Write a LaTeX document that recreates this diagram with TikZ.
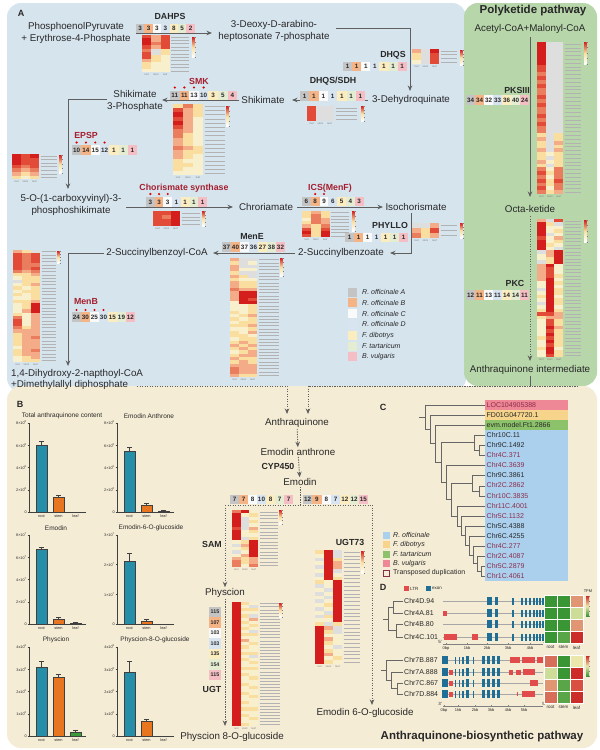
\documentclass[tikz,border=0pt]{standalone}
\usepackage{fontspec}
\setmainfont{Liberation Sans}
\usetikzlibrary{arrows.meta}
\definecolor{panA}{RGB}{214,228,238}
\definecolor{panP}{RGB}{183,214,170}
\definecolor{panB}{RGB}{245,236,213}
\definecolor{darkred}{RGB}{165,30,45}
\definecolor{txt}{RGB}{40,40,40}
\definecolor{arrc}{RGB}{95,95,95}
\definecolor{hR}{RGB}{212,30,30}
\definecolor{hr}{RGB}{225,75,55}
\definecolor{ho}{RGB}{235,125,95}
\definecolor{hs}{RGB}{243,172,135}
\definecolor{hy}{RGB}{249,222,160}
\definecolor{hp}{RGB}{248,240,205}
\definecolor{hg}{RGB}{222,222,222}
\definecolor{nc1}{RGB}{196,196,196}
\definecolor{nc2}{RGB}{244,180,134}
\definecolor{nc3}{RGB}{250,250,250}
\definecolor{nc4}{RGB}{216,229,241}
\definecolor{nc5}{RGB}{252,237,192}
\definecolor{nc6}{RGB}{228,237,210}
\definecolor{nc7}{RGB}{244,190,196}
\definecolor{barroot}{RGB}{38,142,168}
\definecolor{barstem}{RGB}{232,118,32}
\definecolor{barleaf}{RGB}{58,155,58}
\definecolor{cblue}{RGB}{170,208,238}
\definecolor{cyel}{RGB}{246,212,140}
\definecolor{cgrn}{RGB}{140,194,106}
\definecolor{cpink}{RGB}{238,135,150}
\definecolor{cmar}{RGB}{140,45,75}
\definecolor{exonc}{RGB}{30,110,150}
\definecolor{ltrc}{RGB}{225,75,75}
\definecolor{dG}{RGB}{58,150,52}
\definecolor{mG}{RGB}{88,166,72}
\definecolor{pYG}{RGB}{205,220,150}
\definecolor{pY}{RGB}{235,230,170}
\definecolor{salm}{RGB}{225,150,115}
\definecolor{srd}{RGB}{215,110,90}
\definecolor{red1}{RGB}{205,45,40}
\definecolor{red2}{RGB}{215,80,65}

% heatmap: x, y, row height, col width, nrows, label length, list
\newcommand\heat[7]{%
 \foreach[count=\i from 0] \a/\b/\c in {#7}{%
  \fill[fill=h\a] (#1,{#2+\i*#3}) rectangle ({#1+#4},{#2+(\i+1)*#3});
  \fill[fill=h\b] ({#1+#4},{#2+\i*#3}) rectangle ({#1+2*#4},{#2+(\i+1)*#3});
  \fill[fill=h\c] ({#1+2*#4},{#2+\i*#3}) rectangle ({#1+3*#4},{#2+(\i+1)*#3});
  \draw[lab] ({#1+3*#4+1.5},{#2+(\i+.5)*#3}) -- ++(#6,0);
 }%
 \foreach[count=\j from 0] \t in {root,stem,leaf}{%
   \node[collab] at ({#1+(\j+.5)*#4},{#2+#5*#3+2.5}) {\t};}%
}
\newcommand\cbar[3]{%
 \shade[top color=hR, bottom color=hy] (#1,#2) rectangle ({#1+2.5},{#2+#3/2});
 \shade[top color=hy, bottom color=white] (#1,{#2+#3/2}) rectangle ({#1+2.5},{#2+#3});
 \foreach \k in {0,...,4}{\draw[gray,line width=.2pt] ({#1+2.5},{#2+\k*#3/4}) -- ++(1.2,0);}%
}
\newcommand\nums[4]{%
 \foreach[count=\i] \v in {#4}{%
   \node[numbox, fill=nc\i, minimum width=#3pt] at ({#1+(\i-.5)*#3},#2) {\v};}%
}
\newcommand\rdots[4]{%
 \foreach \k in {#4}{\fill[red!85!black] ({#1+(\k-.5)*#3},#2) circle[radius=1.2pt];}%
}
\newcommand\vnums[4]{%
 \foreach[count=\i] \v in {#4}{%
  \node[numbox, fill=nc\i, minimum width=12pt, minimum height=#3pt, font=\bfseries\fontsize{5.3}{6}\selectfont] at (#1,{#2+(\i-1)*#3}) {\v};}%
}
\newcommand\bbar[5]{%
 \fill[#5] (#1,#2) rectangle ({#1+11},#3);
 \draw[black!75,line width=.35pt] (#1,#2) rectangle ({#1+11},#3);
 \draw[black!75,line width=.35pt] ({#1+5.5},#3) -- ({#1+5.5},#4) ({#1+3},#4) -- ({#1+8},#4);
}
\newcommand\baxis[4]{%
 \draw[black!75,line width=.4pt] (#1,{#2-89}) -- (#1,#2) -- ({#1+57},#2);
 \foreach[count=\i from 0] \t in {#3}{%
   \draw[black!75,line width=.4pt] ({#1-1.5},{#2-89+\i*89/#4}) -- (#1,{#2-89+\i*89/#4});
   \node[tick, anchor=east] at ({#1-1.5},{#2-89+\i*89/#4}) {\t};
 }%
 \node[tick] at ({#1+12.5},{#2+4.5}) {root};
 \node[tick] at ({#1+29.5},{#2+4.5}) {stem};
 \node[tick] at ({#1+46.5},{#2+4.5}) {leaf};
}
\newcommand\sci[2]{#1×10\textsuperscript{#2}}
\newcommand\scx[2]{#1x10\textsuperscript{#2}}
\newcommand\tbr[5]{\draw[tree] (#4,#2) -- (#1,#2) -- (#1,#3) -- (#5,#3);}
\newcommand\gx[4]{\fill[exonc] (#1,{#3-#4/2}) rectangle (#2,{#3+#4/2});}
\newcommand\gl[4]{\fill[ltrc] (#1,{#3-#4/2}) rectangle (#2,{#3+#4/2});}

\begin{document}
\begin{tikzpicture}[x=1pt,y=-1pt,
 met/.style={font=\fontsize{9.8}{12.5}\selectfont, align=center, inner sep=1pt, text=txt},
 enz/.style={font=\bfseries\fontsize{8.8}{10}\selectfont, inner sep=0pt, text=txt},
 enzr/.style={enz, text=darkred},
 arr/.style={draw=arrc, line width=0.9pt, -{Stealth[length=5.5pt,width=4.5pt]}},
 darr/.style={arr, dash pattern=on 1.4pt off 1.1pt},
 dline/.style={draw=arrc, line width=0.9pt, dash pattern=on 1.4pt off 1.1pt},
 numbox/.style={inner sep=0pt, minimum height=9.5pt, font=\bfseries\fontsize{6.3}{7}\selectfont, text=txt},
 lab/.style={draw=black!30, line width=0.35pt},
 collab/.style={font=\fontsize{2.6}{3}\selectfont, text=gray, inner sep=0pt},
 tick/.style={font=\fontsize{3.8}{4.5}\selectfont, inner sep=0.6pt, text=txt},
 ctitle/.style={font=\fontsize{6.5}{7.5}\selectfont, text=txt, inner sep=0pt},
 legit/.style={font=\itshape\fontsize{7}{8}\selectfont, text=txt, inner sep=0pt},
 clab/.style={font=\fontsize{7}{8}\selectfont, inner sep=0pt},
 tree/.style={draw=black!60, line width=0.5pt},
 big/.style={font=\bfseries\fontsize{11.5}{13}\selectfont, text=txt, inner sep=0pt},
 plab/.style={font=\bfseries\fontsize{9}{10}\selectfont, text=txt, inner sep=0pt},
 small/.style={font=\fontsize{4.5}{5}\selectfont, text=txt, inner sep=0pt}
]
\useasboundingbox (0,0) rectangle (600,750);
\fill[white] (0,0) rectangle (600,750);
% panels
\fill[panA, rounded corners=14pt] (7,3) rectangle (466,392);
\fill[panP, rounded corners=14pt] (464,3) rectangle (597,386);
\fill[panB, rounded corners=14pt] (7,386) rectangle (597,748);

\node[plab] (lA) at (21,13) {A};
\node[plab] (lB) at (20,404) {B};
\node[plab] (lC) at (383,407) {C};
\node[plab] (lD) at (383,587) {D};

% ---------- panel A metabolites ----------
\node[met] (pep) at (76,33) {PhosphoenolPyruvate\\+ Erythrose-4-Phosphate};
\node[met] (dahp) at (274,31) {3-Deoxy-D-arabino-\\heptosonate 7-phosphate};
\node[met] (dhq) at (411,100) {3-Dehydroquinate};
\node[met] (shik) at (263,100) {Shikimate};
\node[met] (s3p) at (135,101) {Shikimate\\3-Phosphate};
\node[met] (eps) at (71,205) {5-O-(1-carboxyvinyl)-3-\\phosphoshikimate};
\node[met] (chor) at (266,207) {Chroriamate};
\node[met] (iso) at (416,207) {Isochorismate};
\node[met] (sb) at (341,253) {2-Succinylbenzoate};
\node[met] (sbc) at (157,253) {2-Succinylbenzoyl-CoA};
\node[met, anchor=west] (dhna) at (10,374) {1,4-Dihydroxy-2-napthoyl-CoA};
\node[met, anchor=west] (dmap) at (10,385) {+Dimethylallyl diphosphate};

% arrows panel A
\draw[arr] (136,33) -- (212,33);
\draw[arr] (336,28) -| (410,91);
\draw[arr] (368,100) -- (292,100);
\draw[arr] (239,100) -- (162,100);
\draw[arr] (107,99) -| (68,189);
\draw[arr] (126,207) -- (233,207);
\draw[arr] (297,207) -- (383,207);
\draw[arr] (411,213) |- (390,253);
\draw[arr] (295,253) -- (213,253);
\draw[arr] (104,253) -| (68,366);

% DAHPS
\node[enz] at (170,16) {DAHPS};
\nums{136}{28.5}{8.4}{3,3,3,3,8,5,2}
\heat{142}{35}{3.4}{9.3}{11}{18}{r/s/r,R/s/r,R/o/r,r/s/r,o/g/y,r/g/y,r/y/p,s/y/p,y/p/p,y/p/p,p/p/p}
\cbar{192}{37}{20}
% DHQS
\node[enz] at (393,55) {DHQS};
\nums{343}{66.5}{9.1}{1,1,1,1,1,1,1}
\heat{412}{49}{3.7}{9}{4}{16}{s/g/R,y/g/r,y/g/r,p/g/r}
\cbar{460}{50}{15}
% DHQS/SDH
\node[enz] at (333,81) {DHQS/SDH};
\nums{300}{96}{9.3}{1,1,1,1,1,1,1}
\heat{307}{106}{3.7}{9}{4}{21}{r/g/g,r/g/g,r/g/g,r/g/g}
\cbar{361}{106}{15}
% SMK
\node[enzr] at (199,81) {SMK};
\rdots{170}{87.5}{9.6}{1,2,3,4}
\nums{170}{95.5}{9.6}{11,11,13,10,3,5,4}
\heat{173}{104}{4.2}{10}{17}{20}{y/o/y,r/s/y,R/s/y,r/s/p,R/s/p,r/s/p,o/s/p,o/y/p,s/y/p,s/y/p,o/s/y,s/y/y,s/y/p,y/p/p,y/y/p,y/p/p,p/p/p}
\cbar{226}{106}{20}
% EPSP
\node[enzr] at (86,135) {EPSP};
\rdots{72}{142.5}{9.3}{1,2,3,4}
\nums{72}{150}{9.3}{10,14,15,12,1,1,1}
\heat{12}{154}{3.6}{9}{7}{16}{R/r/R,R/r/r,R/r/r,r/o/r,o/s/o,s/y/s,y/p/y}
\cbar{59}{155}{18}
% Chorismate synthase
\node[enzr] at (184,188) {Chorismate synthase};
\rdots{146}{194}{8.7}{1,2,3}
\nums{146}{202}{8.7}{3,3,3,1,1,1,1}
\heat{153}{211}{3.8}{9}{4}{18}{r/r/R,r/o/R,r/r/R,r/r/R}
\cbar{202}{211}{15}
% ICS
\node[enzr] at (330,188) {ICS(MenF)};
\rdots{302}{194}{8.8}{2,3}
\nums{302}{201.5}{8.8}{6,8,9,6,5,4,3}
\heat{302}{211}{3.3}{9.3}{8}{18}{y/s/y,y/o/y,p/o/s,y/o/s,s/y/o,r/y/r,R/y/R,r/y/R}
\cbar{352}{211}{20}
% PHYLLO
\node[enz] at (390,225) {PHYLLO};
\nums{345}{237.5}{9}{1,1,1,1,1,1,1}
\heat{412}{223}{5}{9}{3}{16}{g/g/s,s/y/r,o/y/s}
\cbar{460}{223}{15}
% MenE
\node[enz] at (252,237) {MenE};
\nums{222}{247}{9}{37,40,37,36,27,38,32}
\heat{230}{258}{3.3}{9}{36}{20}{s/g/g,y/g/p,s/g/g,s/p/p,y/g/g,s/y/g,y/p/p,s/y/y,s/y/y,o/s/s,s/R/R,s/R/R,s/R/r,p/R/R,p/p/y,p/p/y,y/p/y,p/y/s,y/p/y,p/y/y,y/y/s,p/p/y,y/p/s,y/y/p,p/y/y,y/s/y,s/y/s,y/s/y,p/y/s,y/s/s,s/y/y,y/s/y,s/s/s,o/s/s,o/s/s,s/y/y}
\cbar{280}{258}{18}
% MenB
\node[enzr] at (86,302) {MenB};
\rdots{72}{310}{9}{1,2,3,4}
\nums{72}{317}{9}{24,30,25,30,15,19,12}
\heat{13}{250}{3.3}{9}{34}{14}{s/y/g,r/o/r,r/o/r,r/o/r,r/o/o,r/o/r,o/s/o,y/y/s,p/y/y,g/y/y,p/y/s,y/p/y,p/y/y,y/p/y,p/p/y,y/y/s,p/y/R,p/y/R,p/s/R,y/p/s,o/p/s,r/p/s,r/p/s,o/y/s,s/s/s,y/s/s,y/s/o,y/s/s,y/s/s,p/s/s,y/s/o,y/s/s,p/y/s,p/y/y}
\cbar{57}{251}{12}

% legend A
\foreach[count=\i] \t in {R. officinale A,R. officinale B,R. officinale C,R. officinale D,F. dibotrys,F. tartaricum,B. vulgaris}{%
  \fill[fill=nc\i] (348,{292+(\i-1)*10.8-4.5}) rectangle (357,{292+(\i-1)*10.8+4.5});
  \node[legit, anchor=west] at (362,{292+(\i-1)*10.8}) {\t};
}

% ---------- polyketide ----------
\node[big] at (533,11) {Polyketide pathway};
\node[met] (acm) at (530,29) {Acetyl-CoA+Malonyl-CoA};
\node[met] (octa) at (530,209) {Octa-ketide};
\node[met] (aqi) at (530,370) {Anthraquinone intermediate};
\draw[arr] (530,37) -- (530,197);
\draw[darr] (530,216) -- (530,361);
\node[enz] at (517,90) {PKSIII};
\nums{466}{100}{9}{34,34,32,33,36,40,24}
\heat{537}{42}{3.8}{8.7}{40}{16}{R/g/g,R/g/g,R/g/g,R/g/g,R/g/g,R/g/g,r/g/g,r/g/g,o/g/g,r/g/g,o/g/g,r/g/g,o/g/g,o/g/g,r/g/g,o/g/g,r/g/g,o/g/g,o/g/g,r/g/g,o/g/g,r/g/g,o/g/g,o/g/g,y/g/y,s/g/y,y/g/s,y/g/y,s/g/s,y/p/y,y/g/y,s/p/y,y/g/y,o/p/o,r/y/o,o/p/o,r/y/r,o/y/o,r/p/o,o/y/s}
\cbar{584}{42}{22}
\node[enz] at (515,283) {PKC};
\nums{466}{295}{9}{12,11,13,11,14,14,11}
\heat{537}{219}{3.45}{8.7}{40}{16}{s/g/r,R/y/g,R/p/p,R/p/y,R/g/p,r/p/s,R/p/y,R/y/p,R/p/g,g/s/R,p/s/R,p/y/R,g/y/R,s/R/p,s/r/p,s/r/p,s/r/y,s/R/p,p/R/y,p/R/p,g/R/y,p/R/y,y/R/p,p/R/y,g/R/y,p/R/p,y/R/y,r/r/s,y/s/s,p/r/y,p/r/y,p/R/s,p/r/y,p/R/y,y/r/y,p/R/y,p/r/y,y/R/p,p/R/y,p/r/y}
\cbar{584}{220}{22}

% ---------- connectors into panel B ----------
\coordinate (jl) at (287,386);
\coordinate (jr) at (308,386);
\coordinate (jq) at (530,386);
\draw[darr] (137,386) -- (jl) -- (287,414);
\draw[dline] (578,386) -- (jr);
\draw[darr] (jr) -- (308,414);
\draw[draw=arrc, line width=0.9pt] (aqi.south) -- (jq);

% ---------- panel B pathway ----------
\node[met] (aq) at (297,423) {Anthraquinone};
\node[met] (ea) at (298,452) {Emodin anthrone};
\node[met] (em) at (300,482) {Emodin};
\node[met] (phy) at (225,593) {Physcion};
\node[met] (p8g) at (232,737) {Physcion 8-O-glucoside};
\node[met] (e6g) at (365,713) {Emodin 6-O-glucoside};
\node[enz] at (278,466) {CYP450};
\coordinate (bm) at (300,505);
\coordinate (bl) at (225,505);
\coordinate (br) at (372,505);
\coordinate (be) at (372,705);
\coordinate (bp) at (225,726);
\draw[darr] (aq) -- (ea);
\draw[darr] (ea) -- (em);
\draw[dline] (em.south) -- (bm);
\draw[dline] (bl) -- (br);
\draw[darr] (bl) -- (phy.north);
\draw[darr] (br) -- (be);
\draw[darr] (phy.south) -- (bp);
\nums{230}{499.5}{9}{7,7,8,10,8,7,7}
\nums{303}{499.5}{9.3}{12,9,8,7,12,12,15}
\node[enz] at (212,544) {SAM};
\heat{232}{510}{3.35}{8.7}{17}{18}{o/R/p,R/p/y,R/g/p,R/g/y,R/g/p,r/g/s,R/p/y,R/p/p,R/g/y,p/y/R,g/s/R,p/y/R,g/p/R,p/s/R,s/y/s,o/y/s,o/p/o}
\cbar{279}{510}{14}
\vnums{215}{612}{10.5}{115,107,103,103,135,154,115}
\node[enz] at (212,689) {UGT};
\heat{232}{602}{3.1}{8.7}{40}{20}{R/y/p,R/p/g,R/y/y,R/p/p,R/y/g,R/p/s,R/y/p,R/p/y,R/y/p,R/p/g,R/y/y,R/p/p,R/s/p,R/p/y,R/y/p,R/p/p,R/y/y,R/p/g,R/y/p,R/p/y,R/p/p,R/y/y,R/p/p,R/y/p,R/p/y,R/p/p,R/y/p,R/p/y,R/p/p,R/y/p,R/p/y,R/p/p,R/y/p,R/p/p,R/y/y,R/p/p,R/y/p,R/p/y,R/p/p,R/y/p}
\cbar{279}{603}{14}
\node[enz] at (350,542) {UGT73};
\heat{315}{550}{3.8}{9}{30}{16}{y/R/g,p/R/g,g/R/y,p/R/s,g/R/s,p/R/g,g/R/p,p/R/y,y/p/R,g/p/R,p/g/R,g/p/R,p/g/R,g/p/R,p/y/R,g/p/R,p/g/R,g/y/R,p/p/R,y/g/y,R/s/g,R/y/g,R/p/p,R/s/p,R/y/p,R/p/g,R/y/p,R/s/p,R/p/y,R/y/p}
\cbar{361}{551}{22}

% ---------- bar charts ----------
\node[ctitle] at (62,416) {Total anthraquinone content};
\baxis{29}{512}{\sci{8}{8},\sci{6}{8},\sci{4}{8},\sci{2}{8},0}{4}
\bbar{36}{512}{445}{441}{barroot}
\bbar{53}{512}{497}{495.5}{barstem}
\node[ctitle] at (149,416) {Emodin Anthrone};
\baxis{117}{512}{\sci{8}{6},\sci{6}{6},\sci{4}{6},\sci{2}{6},0}{4}
\bbar{124}{512}{451}{447}{barroot}
\bbar{141}{512}{505}{503}{barstem}
\bbar{158}{512}{511}{510}{barleaf}
\node[ctitle] at (56,528) {Emodin};
\baxis{29}{624}{\sci{8}{7},\sci{6}{7},\sci{4}{7},\sci{2}{7},0}{4}
\bbar{36}{624}{549}{547}{barroot}
\bbar{53}{624}{619}{617.5}{barstem}
\bbar{70}{624}{623.3}{622.5}{barleaf}
\node[ctitle] at (151,528) {Emodin-6-O-glucoside};
\baxis{117}{624}{\sci{3}{7},\sci{2}{7},\sci{1}{7},0}{3}
\bbar{124}{624}{561}{553}{barroot}
\bbar{141}{624}{621}{619.5}{barstem}
\node[ctitle] at (56,640) {Physcion};
\baxis{29}{736}{\scx{4}{6},\scx{3}{6},\scx{2}{6},\scx{1}{6},0}{4}
\bbar{36}{736}{667}{661}{barroot}
\bbar{53}{736}{677}{674}{barstem}
\bbar{70}{736}{732}{730}{barleaf}
\node[ctitle] at (155,640) {Physcion-8-O-glucoside};
\baxis{117}{736}{\scx{4}{8},\scx{3}{8},\scx{2}{8},\scx{1}{8},0}{4}
\bbar{124}{736}{672}{661}{barroot}
\bbar{141}{736}{721}{719}{barstem}

% ---------- panel C ----------
\fill[cpink] (485,400) rectangle (568,410);
\fill[cyel] (485,410) rectangle (568,420);
\fill[cgrn] (485,420) rectangle (568,430);
\fill[cblue] (485,430) rectangle (568,581);
\foreach[count=\i from 0] \t/\c in {LOC104905388/cmar,FD01G047720.1/txt,evm.model.Ft1.2866/txt,Chr10C.11/txt,Chr9C.1492/txt,Chr4C.371/cmar,Chr4C.3639/cmar,Chr9C.3861/txt,Chr2C.2862/cmar,Chr10C.3835/cmar,Chr11C.4001/cmar,Chr5C.1132/cmar,Chr5C.4388/txt,Chr6C.4255/txt,Chr4C.277/cmar,Chr2C.4087/cmar,Chr5C.2879/cmar,Chr1C.4061/cmar}{%
  \node[clab, anchor=west, text=\c] at (486.5,{405+\i*10.06}) {\t};}
\tbr{425}{405}{429.4}{485}{430}
\tbr{430}{415}{443.7}{485}{435}
\tbr{435}{425}{462.4}{485}{441}
\tbr{441}{442.5}{482.3}{474}{446}
\tbr{474}{435}{450}{485}{479}
\tbr{479}{445}{455}{485}{485}
\tbr{446}{465}{499.5}{485}{451}
\tbr{451}{483}{516}{472}{457}
\tbr{472}{475}{491}{485}{479}
\tbr{479}{486}{496}{485}{485}
\tbr{457}{506}{525.9}{485}{461}
\tbr{461}{516}{535.7}{485}{465}
\tbr{465}{526}{545.4}{485}{469}
\tbr{469}{536}{554.8}{485}{473}
\tbr{473}{546}{563.5}{485}{477}
\tbr{477}{556}{571}{485}{481}
\tbr{481}{566}{576}{485}{485}
\draw[tree] (419,417.2) -- (425,417.2);
% legend C
\foreach[count=\i from 0] \c/\t in {cblue/R. officinale,cyel/F. dibotrys,cgrn/F. tartaricum,cpink/B. vulgaris}{%
  \fill[fill=\c] (383,{535+\i*9.5-3.5}) rectangle (390,{535+\i*9.5+3.5});
  \node[legit, anchor=west] at (393,{535+\i*9.5}) {\t};
}
\draw[cmar, line width=0.8pt] (383.4,569.9) rectangle (389.6,576.1);
\node[clab, anchor=west, text=txt] at (393,573) {Transposed duplication};

% ---------- panel D ----------
\fill[ltrc] (404,586) rectangle (408.5,591);
\node[small, anchor=west] at (410,588.5) {LTR};
\fill[exonc] (426,586) rectangle (430.5,591);
\node[small, anchor=west] at (432,588.5) {exon};
% trees D
\tbr{388}{607}{630.5}{393}{396}
\tbr{393}{601}{613}{403}{403}
\tbr{396}{624}{637}{403}{403}
\draw[tree] (383,618.75) -- (388,618.75);
\tbr{386}{660}{680.25}{403}{391}
\tbr{391}{672}{688.5}{403}{397}
\tbr{397}{683}{694}{403}{403}
\draw[tree] (381,670.1) -- (386,670.1);
\foreach \t/\y in {Chr4D.94/601,Chr4A.81/613,Chr4B.80/624,Chr4C.101/637,Chr7B.887/660,Chr7A.888/672,Chr7C.867/683,Chr7D.884/694}{%
  \node[clab, anchor=west, text=txt] at (404,\y) {\t};}
% upper genes
\foreach \y in {601,613,624,637}{%
  \draw[gray!70, line width=0.6pt] (443,\y) -- (543,\y);
  \gx{487}{492}{\y}{8}
  \gx{495}{498}{\y}{8}
  \foreach \x in {513,522,526,530,534,537,540,543}{\gx{\x-0.7}{\x+0.7}{\y}{7}}
}
\gl{443}{447}{613}{5}
\gl{444}{457}{637}{6}
\gl{472}{478}{637}{6}
% lower genes
\foreach \y in {660,672,683,694}{%
  \draw[gray!70, line width=0.6pt] (442,\y) -- (543,\y);
  \gx{442}{448}{\y}{8}
  \foreach \x in {455.5,459.5,463}{\gx{\x-0.7}{\x+0.7}{\y}{7}}
  \gx{465.5}{469}{\y}{8}
  \gx{472.5}{474}{\y}{7}
  \gx{482}{485}{\y}{8}
  \gx{487}{490}{\y}{8}
  \gx{492}{495}{\y}{8}
  \gx{497}{500}{\y}{8}
}
\gl{510}{520}{660}{6}
\gl{522}{535}{660}{6}
\gl{537}{543}{660}{6}
\gl{449}{453}{672}{5}
\gl{509}{513}{672}{5}
\gl{516}{521}{672}{5}
\gl{523}{535}{672}{6}
\gl{449}{453}{683}{5}
\gl{530}{538}{683}{6}
\gl{449}{453}{694}{5}
\gl{516.5}{518}{694}{4}
\gl{522}{535}{694}{6}
% axes D
\draw[gray, line width=.4pt] (443,644) -- (543,644);
\foreach \x/\t in {446/0bp,467/1kb,487/2kb,508/3kb,530/4kb}{%
  \draw[gray, line width=.4pt] (\x,644) -- (\x,642.5);
  \node[small, font=\fontsize{4}{4.5}\selectfont] at (\x,648) {\t};}
\node[small] at (440,642) {5'};
\node[small] at (545,642) {3'};
\draw[gray, line width=.4pt] (443,706) -- (543,706);
\foreach \x/\t in {444/0bp,458/1kb,475/2kb,491/3kb,508/4kb,524/5kb}{%
  \draw[gray, line width=.4pt] (\x,706) -- (\x,704.5);
  \node[small, font=\fontsize{4}{4.5}\selectfont] at (\x,710) {\t};}
\node[small] at (440,704) {3'};
\node[small] at (544,704) {5'};
% heatmaps D
\foreach[count=\i from 0] \a/\b/\c in {dG/dG/salm,dG/dG/pYG,dG/dG/salm,dG/mG/red1}{%
  \foreach[count=\j from 0] \k in {\a,\b,\c}{%
    \fill[fill=\k, draw=white, line width=0.6pt] ({544+\j*13},{595+\i*12}) rectangle ++(13,12);}}
\foreach[count=\i from 0] \a/\b/\c in {srd/dG/pY,pYG/dG/red1,salm/mG/red2,srd/mG/red1}{%
  \foreach[count=\j from 0] \k in {\a,\b,\c}{%
    \fill[fill=\k, draw=white, line width=0.6pt] ({544+\j*13},{655+\i*12}) rectangle ++(13,12);}}
\foreach \x/\t in {550.5/root,563.5/stem,576.5/leaf}{%
  \node[small] at (\x,647.5) {\t};
  \node[small] at (\x,707.5) {\t};}
\foreach \yy in {596,656}{%
  \shade[top color=red1, bottom color=pY] (586,\yy) rectangle (589,{\yy+10});
  \shade[top color=pY, bottom color=dG] (586,{\yy+10}) rectangle (589,{\yy+20});
  \foreach \k in {0,...,4}{\draw[gray,line width=.2pt] (589,{\yy+\k*5}) -- ++(1.2,0);}}
\node[small, font=\fontsize{4}{4.5}\selectfont] at (588,591) {TPM};

\node[big] at (482,737) {Anthraquinone-biosynthetic pathway};
\end{tikzpicture}
\end{document}
